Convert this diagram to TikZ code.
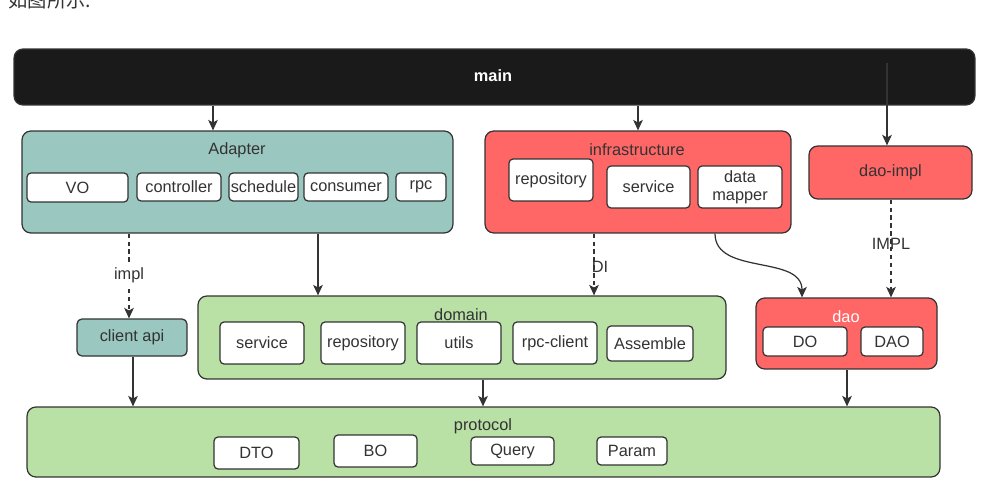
\documentclass[tikz,border=0pt]{standalone}
\usepackage{xcolor}
\usepackage{fontspec}
\setmainfont{Liberation Sans}
\newfontfamily\cjkfont{Noto Sans CJK SC}
\usetikzlibrary{arrows.meta,positioning,calc}

\definecolor{mainblack}{HTML}{1A1A1A}
\definecolor{adaptteal}{HTML}{9AC7BF}
\definecolor{infrared}{HTML}{FF6666}
\definecolor{domgreen}{HTML}{B9E0A5}
\definecolor{edgegray}{HTML}{333333}

\begin{document}
\begin{tikzpicture}[
    x=0.02cm, y=-0.02cm,
    every node/.style={font=\fontsize{9.3}{11}\selectfont, text=edgegray},
    layer/.style={rectangle, draw=edgegray, line width=0.7pt, rounded corners=5pt, inner sep=0pt},
    item/.style={rectangle, draw=edgegray, line width=0.7pt, fill=white, rounded corners=2.3pt, inner sep=1pt, align=center},
    title/.style={inner sep=0pt},
    arrow/.style={-{Stealth[length=6pt,width=5.5pt,inset=1.5pt]}, edgegray, line width=0.7pt},
    dasharrow/.style={arrow, dash pattern=on 2.5pt off 2pt}
]
\useasboundingbox (0,0) rectangle (999,486);

% Caption above the figure
\node[anchor=base west, inner sep=0pt, font=\cjkfont\fontsize{11}{13}\selectfont] (caption) at (8,8) {如图所示:};

% Main
\node[layer, fill=mainblack, minimum width=19.22cm, minimum height=1.12cm] (main) at (494.5,77) {};
\node[title, text=white, font=\bfseries\fontsize{9.3}{11}\selectfont] (maintitle) at (493,76) {main};

% Adapter
\node[layer, fill=adaptteal, minimum width=8.62cm, minimum height=2.04cm] (adapter) at (237.5,182) {};
\node[title] (adaptertitle) at (237,150) {Adapter};
\node[item, minimum width=2.02cm, minimum height=0.58cm] (vo) at (77.5,187.5) {VO};
\node[item, minimum width=1.68cm, minimum height=0.56cm] (controller) at (179,187) {controller};
\node[item, minimum width=1.38cm, minimum height=0.56cm, inner sep=0pt] (schedule) at (263.5,187) {schedule};
\node[item, minimum width=1.68cm, minimum height=0.56cm] (consumer) at (346,187) {consumer};
\node[item, minimum width=1.00cm, minimum height=0.56cm] (rpc) at (421,187) {rpc};

% Infrastructure
\node[layer, fill=infrared, minimum width=6.12cm, minimum height=2.04cm] (infra) at (638,182) {};
\node[title] (infratitle) at (637,150) {infrastructure};
\node[item, minimum width=1.68cm, minimum height=0.84cm] (infrarepo) at (551,180) {repository};
\node[item, minimum width=1.66cm, minimum height=0.84cm] (infraservice) at (648.5,187) {service};
\node[item, minimum width=1.68cm, minimum height=0.84cm] (datamapper) at (740,187) {data\\[-1pt]mapper};

% Dao impl
\node[layer, fill=infrared, minimum width=3.26cm, minimum height=1.06cm] (daoimpl) at (890.5,172.5) {dao-impl};

% Client api
\node[layer, fill=adaptteal, rounded corners=2.8pt, minimum width=2.2cm, minimum height=0.74cm] (clientapi) at (132,337.5) {client api};

% Domain
\node[layer, fill=domgreen, minimum width=10.56cm, minimum height=1.66cm] (domain) at (462,337.5) {};
\node[title] (domaintitle) at (461,315) {domain};
\node[item, minimum width=1.68cm, minimum height=0.84cm] (domservice) at (262,343) {service};
\node[item, minimum width=1.68cm, minimum height=0.84cm] (domrepo) at (363,343) {repository};
\node[item, minimum width=1.68cm, minimum height=0.84cm] (utils) at (459,343) {utils};
\node[item, minimum width=1.68cm, minimum height=0.84cm] (rpcclient) at (555,343) {rpc-client};
\node[item, minimum width=1.72cm, minimum height=0.70cm] (assemble) at (650,343.5) {Assemble};

% Dao
\node[layer, fill=infrared, minimum width=3.62cm, minimum height=1.42cm] (dao) at (846.5,333.5) {};
\node[title, text=white] (daotitle) at (846,317) {dao};
\node[item, minimum width=1.68cm, minimum height=0.58cm] (do) at (805,341.5) {DO};
\node[item, minimum width=1.24cm, minimum height=0.58cm] (daoitem) at (892,341.5) {DAO};

% Protocol
\node[layer, fill=domgreen, minimum width=18.26cm, minimum height=1.4cm] (protocol) at (483.5,442) {};
\node[title] (protocoltitle) at (483,426) {protocol};
\node[item, minimum width=1.70cm, minimum height=0.64cm] (dto) at (256.5,453) {DTO};
\node[item, minimum width=1.66cm, minimum height=0.64cm] (bo) at (375.5,451) {BO};
\node[item, minimum width=1.66cm, minimum height=0.56cm] (query) at (512.5,451) {Query};
\node[item, minimum width=1.40cm, minimum height=0.56cm] (param) at (632,451) {Param};

% Arrows
\coordinate (maininside) at (887,63);
\draw[arrow] (main.south -| 213,0) -- (adapter.north -| 213,0);
\draw[arrow] (main.south -| 638,0) -- (infra.north -| 638,0);
\draw[arrow] (maininside) -- (daoimpl.north -| maininside);
\draw[dasharrow] (adapter.south -| 129,0) -- (clientapi.north -| 129,0) node[pos=0.49, fill=white, inner sep=1.5pt] {impl};
\draw[arrow] (adapter.south -| 318,0) -- (domain.north -| 318,0);
\draw[dasharrow] (infra.south -| 594,0) -- (domain.north -| 594,0) node[pos=0.54, xshift=0.12cm, inner sep=0pt] {DI};
\draw[arrow] (infra.south -| 715,0) .. controls +(0,42) and +(0,-43) .. (dao.north -| 802,0);
\draw[dasharrow] (daoimpl.south -| 891,0) -- (dao.north -| 891,0) node[pos=0.45, inner sep=0pt] {IMPL};
\draw[arrow] (clientapi.south -| 133,0) -- (protocol.north -| 133,0);
\draw[arrow] (domain.south -| 483,0) -- (protocol.north -| 483,0);
\draw[arrow] (dao.south -| 847,0) -- (protocol.north -| 847,0);

\end{tikzpicture}
\end{document}
